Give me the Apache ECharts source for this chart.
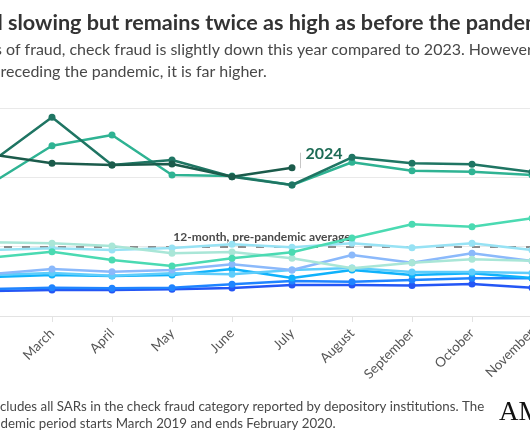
<!DOCTYPE html>
<html><head><meta charset="utf-8">
<script src="https://cdn.jsdelivr.net/npm/echarts@6/dist/echarts.min.js"></script>
<style>
html,body{margin:0;padding:0;width:530px;height:442px;overflow:hidden;background:#fff;position:relative}
#c{position:absolute;left:-300px;top:0;width:1200px;height:442px}
</style></head>
<body><div id="c"></div>
<script>
// ---- data ----
const months = ['January','February','March','April','May','June','July','August','September','October','November','December'];
const yTicks = [0, 20000, 40000, 60000];
const prePandemicAvg = 19900;
const s2014 = [7100, 7210, 7500, 7500, 7700, 8080, 8940, 8940, 8800, 9230, 8160, 8000];
const s2015 = [7700, 7790, 8160, 7990, 8160, 9140, 10100, 9890, 10380, 10870, 10870, 10500];
const s2016 = [11300, 11250, 11830, 11540, 11830, 13560, 10960, 13270, 11830, 12320, 10960, 11000];
const s2017 = [11700, 11830, 12400, 11630, 12320, 12030, 13270, 13850, 12690, 12690, 12400, 12300];
const s2018 = [12000, 12120, 13560, 12780, 13270, 14910, 13270, 17600, 15380, 18090, 15870, 15000];
const s2019 = [19000, 19040, 19530, 19040, 19620, 20680, 19820, 20970, 19700, 20970, 19040, 19500];
const s2020 = [21000, 21260, 20970, 20190, 18090, 18460, 16640, 13760, 15380, 16360, 15950, 16000];
const s2021 = [16000, 16875, 18550, 16150, 14420, 16640, 18370, 22500, 26450, 25760, 28180, 30000];
const s2022 = [37000, 38370, 49120, 52210, 40670, 40380, 37790, 44340, 41910, 41620, 40670, 39000];
const s2023 = [41000, 44540, 57320, 43560, 45000, 40180, 37790, 45780, 44050, 43760, 41540, 40000];
const s2024 = [44000, 46590, 44050, 43560, 43850, 40180, 42780];
const yearNames = ['2014','2015','2016','2017','2018','2019','2020','2021','2022','2023','2024'];
const titleText = 'Check fraud slowing but remains twice as high as before the pandemic';
const subLines = ['Like other types of fraud, check fraud is slightly down this year compared to 2023. However, compared to the',
                  '12 months preceding the pandemic, it is far higher.'];
const noteLines = ['Data includes all SARs in the check fraud category reported by depository institutions. The',
                   'pre-pandemic period starts March 2019 and ends February 2020.'];
const logoText = 'AMERICAN BANKER';
const avgLabel = '12-month, pre-pandemic average';

// ---- layout ----
const OX = 300;
const cv = document.createElement('canvas').getContext('2d');
function w(txt, font){ cv.font = font; return cv.measureText(txt).width; }
const FONT = 'Lato';
const titleFont = 'bold 21.6px ' + FONT, subFont = '16px ' + FONT, noteFont = '13.3px ' + FONT;

const colors = ['#2456f5','#1f84ff','#0fb2fb','#5fcdfb','#8bb9fb','#97e2f4','#a9e6d7','#4bdab2','#2fb393','#1f7563','#1b5b4b'];
const allSeries = [s2014,s2015,s2016,s2017,s2018,s2019,s2020,s2021,s2022,s2023,s2024];

const series = allSeries.map((d, i) => ({
  name: yearNames[i], type: 'line', data: d, symbol: 'circle', symbolSize: 7,
  lineStyle: {width: 2.5, color: colors[i]}, itemStyle: {color: colors[i]},
  z: 2 + i, animation: false, emphasis: {disabled: true}
}));
series.push({
  name: 'avg', type: 'line', data: [], z: 20, animation: false,
  markLine: {
    silent: true, symbol: 'none', animation: false,
    lineStyle: {type: [8, 10], color: '#8c8c8c', width: 2},
    label: {show: true, position: 'insideMiddleTop', distance: 4, formatter: avgLabel,
            fontFamily: FONT, fontWeight: 'bold', fontSize: 12, color: '#4a4a4a'},
    data: [{yAxis: prePandemicAvg}]
  }
});

function txt(s, prefix, visX, y, font, style){
  return {type: 'text', x: visX + OX - w(prefix, font), y: y,
    style: Object.assign({text: s, font: font, verticalAlign: 'middle', textAlign: 'left'}, style)};
}

const graphics = [
  txt(titleText, 'Check fraud ', 8, 23, titleFont, {fill: '#333'}),
  txt(subLines[0], 'Like other types ', 6, 50, subFont, {fill: '#484848'}),
  txt(subLines[1], '12 months p', 0.5, 71.5, subFont, {fill: '#484848'}),
  txt(noteLines[0], 'Data in', 0, 407, noteFont, {fill: '#484848'}),
  txt(noteLines[1], 'pre-pan', 0.5, 423.5, noteFont, {fill: '#484848'}),
  {type: 'text', x: 499 + OX, y: 413, style: {text: logoText, font: '27px "Liberation Serif"', fill: '#111', verticalAlign: 'middle'}}
];

const chart = echarts.init(document.getElementById('c'), null, {renderer: 'canvas'});
const option = {
  animation: false,
  backgroundColor: '#fff',
  grid: {left: 232, right: 308, top: 108, bottom: 126, containLabel: false},
  xAxis: {
    type: 'category', data: months, boundaryGap: false,
    axisLine: {lineStyle: {color: '#e3e3e3', width: 1}},
    axisTick: {show: true, length: 6, lineStyle: {color: '#e3e3e3'}},
    axisLabel: {rotate: 45, fontFamily: FONT, fontSize: 13.5, color: '#555', margin: 15, interval: 0}
  },
  yAxis: {
    type: 'value', min: yTicks[0], max: yTicks[yTicks.length - 1], interval: yTicks[1] - yTicks[0],
    axisLine: {show: false}, axisTick: {show: false},
    splitLine: {lineStyle: {color: '#e9e9e9', width: 1}},
    axisLabel: {fontFamily: FONT, fontSize: 13, color: '#555', formatter: v => (v / 1000) + 'K'}
  },
  series: series,
  graphic: graphics
};
chart.setOption(option);

// label for the latest year, placed at its last point via the chart's own scales
const lastIdx = s2024.length - 1;
const p = chart.convertToPixel({gridIndex: 0}, [lastIdx, s2024[lastIdx]]);
graphics.push(
  {type: 'line', z: 30, shape: {x1: p[0] + 8.5, y1: p[1] - 15, x2: p[0] + 8.5, y2: p[1] + 0.5},
   style: {stroke: '#c6c6c6', lineWidth: 1}},
  {type: 'text', z: 30, x: p[0] + 13.5, y: p[1] - 13.5,
   style: {text: yearNames[10], font: 'bold 16px ' + FONT, fill: '#1d6b55', verticalAlign: 'middle'}}
);
chart.setOption({graphic: graphics});
</script>
</body></html>
